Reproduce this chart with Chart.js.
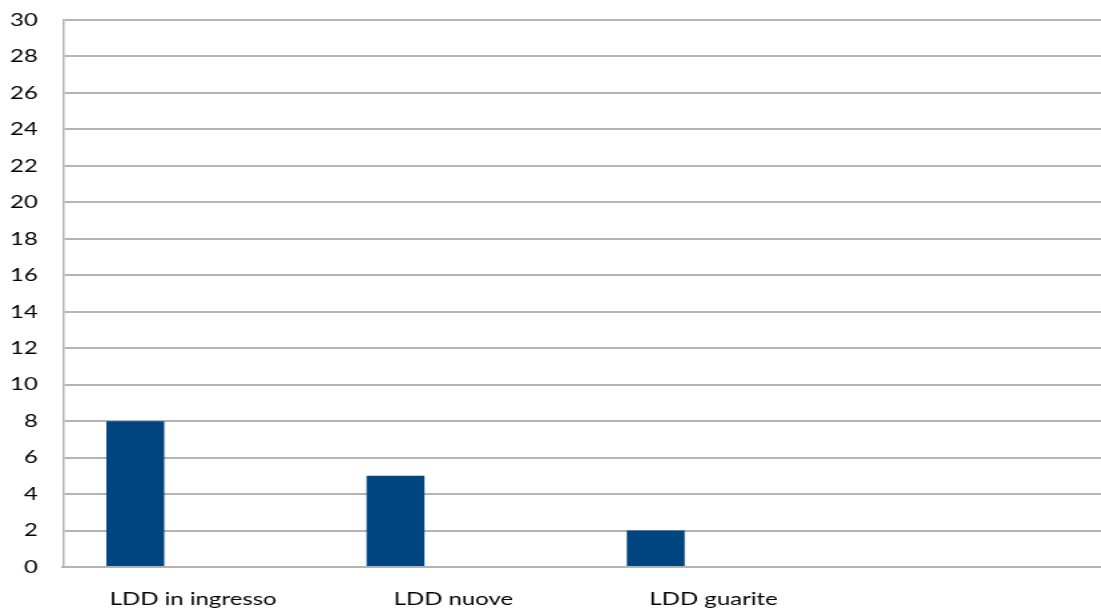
<!DOCTYPE html>
<html lang="it">
<head>
    <meta charset="UTF-8">
    <title>LDD</title>
    <script src="https://cdn.jsdelivr.net/npm/chart.js"></script>
    <style>
        html, body {
            margin: 0;
            padding: 0;
            background: #ffffff;
            overflow: hidden;
        }

        /* chart is drawn narrow and widened, so the text comes out wide too */
        .wrap {
            width: 830px;
            height: 616px;
            transform: scaleX(1.33);
            transform-origin: 0 0;
        }
    </style>
</head>
<body>
    <div class="wrap">
        <canvas id="lddChart" width="830" height="616"></canvas>
    </div>

    <script>
        // Categories and series
        const categories = ['LDD in ingresso', 'LDD nuove', 'LDD guarite', ''];
        const serie1 = [8, 5, 2, null];
        const serie2 = [null, null, null, null];
        const serie3 = [null, null, null, null];

        const yMin = 0;
        const yMax = 30;
        const yStep = 2;

        const barColor = '#00457f';
        const gridColor = '#b4b4b4';
        const fontFamily = 'Lato, "Open Sans", sans-serif';

        const ctx = document.getElementById('lddChart').getContext('2d');

        new Chart(ctx, {
            type: 'bar',
            data: {
                labels: categories,
                datasets: [
                    { label: 'Serie 1', data: serie1, backgroundColor: barColor },
                    { label: 'Serie 2', data: serie2, backgroundColor: barColor },
                    { label: 'Serie 3', data: serie3, backgroundColor: barColor }
                ]
            },
            options: {
                responsive: false,
                animation: false,
                layout: {
                    padding: { top: 20, right: 0, bottom: 0, left: 0 }
                },
                datasets: {
                    bar: {
                        categoryPercentage: 0.667,
                        barPercentage: 1.0
                    }
                },
                scales: {
                    x: {
                        afterFit: (scale) => { scale.height = 49; },
                        grid: { display: false, drawTicks: false },
                        border: { display: true, color: gridColor, width: 2 },
                        ticks: {
                            color: '#000000',
                            padding: 21,
                            maxRotation: 0,
                            autoSkip: false,
                            font: { family: fontFamily, size: 18 }
                        }
                    },
                    y: {
                        min: yMin,
                        max: yMax,
                        afterFit: (scale) => { scale.width = 47.4; },
                        // invisible tick marks keep the labels away from the axis
                        // without the label padding pushing the plot top down
                        grid: {
                            color: gridColor,
                            lineWidth: 2,
                            drawTicks: true,
                            tickLength: 19,
                            tickColor: 'rgba(0,0,0,0)'
                        },
                        border: { display: true, color: gridColor, width: 1.5 },
                        ticks: {
                            stepSize: yStep,
                            color: '#000000',
                            padding: 0,
                            font: { family: fontFamily, size: 18 }
                        }
                    }
                },
                plugins: {
                    legend: { display: false },
                    tooltip: { enabled: false }
                }
            }
        });
    </script>
</body>
</html>
